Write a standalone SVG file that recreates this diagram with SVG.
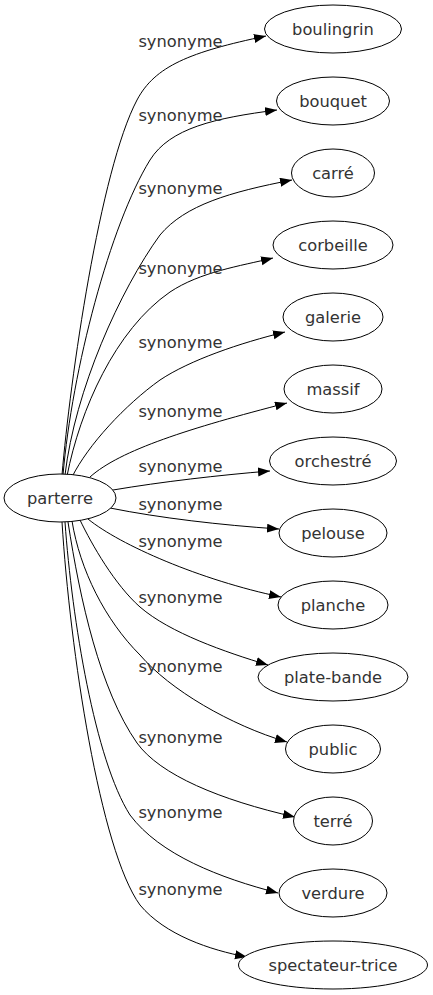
<svg xmlns="http://www.w3.org/2000/svg" width="433" height="995" viewBox="0 0 433 995">
<style>
.n ellipse{fill:#fff;stroke:#000;stroke-width:1}
text{font-family:"DejaVu Sans",sans-serif;font-size:16.3px;fill:#333}
.n text{text-anchor:middle}
.l{text-anchor:middle}
#edges path{fill:none;stroke:#000;stroke-width:1;marker-end:url(#arr)}
</style>
<defs>
<marker id="arr" markerUnits="userSpaceOnUse" markerWidth="13" markerHeight="10" refX="12" refY="4.5" orient="auto">
<path d="M0,0 L12,4.5 L0,9 z" fill="#000"/>
</marker>
</defs>
<g id="edges">
<path d="M62,475 C70,380 100,170 137,100 C155,66 190,52 266,36"/>
<path d="M63,475 C72,370 110,225 150,160 C170,128 215,118 277,110"/>
<path d="M65,475 C75,390 120,290 160,235 C185,205 230,192 292,180"/>
<path d="M67,476 C80,410 115,330 170,292 C200,272 240,266 273,258"/>
<path d="M72,477 C88,445 125,405 160,380 C190,360 240,343 285,332"/>
<path d="M90,477 C120,450 190,428 287,403"/>
<path d="M113,490 C160,482 220,475 270,471"/>
<path d="M110,508 C160,518 220,525 279,529"/>
<path d="M88,519 C120,545 200,580 281,597"/>
<path d="M80,520 C92,545 115,585 140,607 C170,633 225,652 268,665"/>
<path d="M72,521 C80,570 105,620 140,655 C170,690 230,725 287,742"/>
<path d="M68,522 C80,600 100,690 137,743 C160,775 220,800 295,817"/>
<path d="M65,522 C72,620 95,760 130,815 C160,855 220,878 278,893"/>
<path d="M62,522 C70,650 100,850 140,905 C165,935 210,950 247,957"/>
<text class="l" x="180.5" y="47">synonyme</text>
<text class="l" x="180.5" y="121">synonyme</text>
<text class="l" x="180.5" y="194">synonyme</text>
<text class="l" x="180.5" y="274">synonyme</text>
<text class="l" x="180.5" y="348">synonyme</text>
<text class="l" x="180.5" y="417">synonyme</text>
<text class="l" x="180.5" y="472">synonyme</text>
<text class="l" x="180.5" y="510">synonyme</text>
<text class="l" x="180.5" y="547">synonyme</text>
<text class="l" x="180.5" y="603">synonyme</text>
<text class="l" x="180.5" y="672">synonyme</text>
<text class="l" x="180.5" y="743">synonyme</text>
<text class="l" x="180.5" y="818">synonyme</text>
<text class="l" x="180.5" y="895">synonyme</text>
</g>
<g id="parterre" class="n"><ellipse cx="60" cy="498" rx="56" ry="24"/><text x="60" y="504">parterre</text></g>
<g id="boulingrin" class="n"><ellipse cx="333" cy="29" rx="68.5" ry="24"/><text x="333" y="35">boulingrin</text></g>
<g id="bouquet" class="n"><ellipse cx="333" cy="101" rx="56.5" ry="24"/><text x="333" y="107">bouquet</text></g>
<g id="carre" class="n"><ellipse cx="333" cy="173" rx="41.5" ry="24"/><text x="333" y="179">carré</text></g>
<g id="corbeille" class="n"><ellipse cx="333" cy="245" rx="60" ry="24"/><text x="333" y="251">corbeille</text></g>
<g id="galerie" class="n"><ellipse cx="333" cy="317" rx="50" ry="24"/><text x="333" y="323">galerie</text></g>
<g id="massif" class="n"><ellipse cx="333" cy="389" rx="49" ry="24"/><text x="333" y="395">massif</text></g>
<g id="orchestre" class="n"><ellipse cx="333" cy="461" rx="63.5" ry="24"/><text x="333" y="467">orchestré</text></g>
<g id="pelouse" class="n"><ellipse cx="333" cy="533" rx="54" ry="24"/><text x="333" y="539">pelouse</text></g>
<g id="planche" class="n"><ellipse cx="333" cy="605" rx="55" ry="24"/><text x="333" y="611">planche</text></g>
<g id="plate-bande" class="n"><ellipse cx="333" cy="677" rx="75" ry="24"/><text x="333" y="683">plate-bande</text></g>
<g id="public" class="n"><ellipse cx="333" cy="749" rx="47.5" ry="24"/><text x="333" y="755">public</text></g>
<g id="terre" class="n"><ellipse cx="333" cy="821" rx="39.5" ry="24"/><text x="333" y="827">terré</text></g>
<g id="verdure" class="n"><ellipse cx="333" cy="893" rx="54" ry="24"/><text x="333" y="899">verdure</text></g>
<g id="spectateur-trice" class="n"><ellipse cx="333" cy="965" rx="94.5" ry="24"/><text x="333" y="971">spectateur-trice</text></g>
</svg>
